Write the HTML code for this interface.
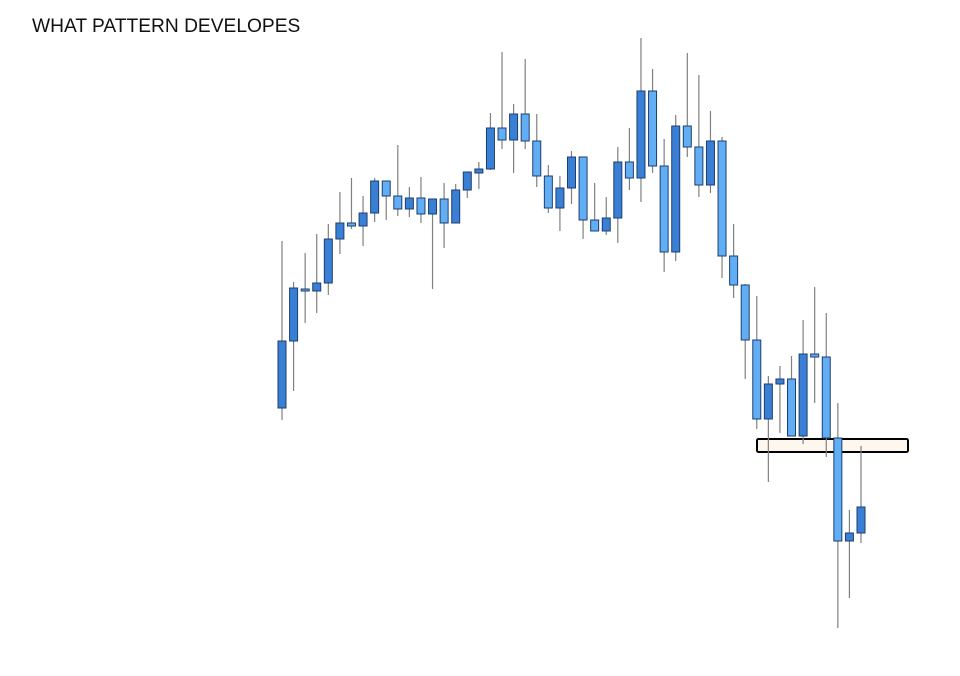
<!DOCTYPE html>
<html><head><meta charset="utf-8"><style>
html,body{margin:0;padding:0;background:#fff;width:960px;height:676px;overflow:hidden}
#title{position:absolute;left:32px;top:16px;font-family:"Liberation Sans",sans-serif;font-size:19.2px;color:#111}
svg{position:absolute;left:0;top:0}
</style></head><body>
<div id="title">WHAT PATTERN DEVELOPES</div>
<svg id="chart" width="960" height="676">
<rect x="757" y="439" width="151" height="13" rx="1.5" fill="#fdf7ee" stroke="#000" stroke-width="2"/>
<g id="candles"></g>
</svg>
<script>
const openVals=[292,359,411,409,417,461,477,474,487,519,504,491,502,486,501,477,510,527,531,572,560,586,559,524,492,512,543,480,469,482,538,522,609,534,448,574,553,515,559,444,415,360,281,316,321,264,346,343,262,159,167];
const closeVals=[359,412,409,417,461,477,474,487,519,504,491,502,486,501,477,510,528,531,572,560,586,559,524,492,512,543,480,469,482,538,522,609,534,448,574,553,515,559,444,415,360,281,316,321,264,346,343,262,159,167,193];
const highVals=[459,418,447,466,476,508,522,504,522,519,555,513,523,501,517,516,528,538,587,648,596,641,586,535,524,549,543,517,503,553,572,662,631,561,585,647,625,589,563,476,416,404,324,334,344,380,413,387,297,190,254];
const lowVals=[280,309,377,387,405,446,471,454,478,480,484,483,477,411,452,477,502,511,530,551,527,551,513,487,469,496,461,469,465,457,510,498,527,428,439,543,503,507,422,402,321,271,218,267,264,256,297,243,72,102,157];
const NS="http://www.w3.org/2000/svg";
const xPos=i=>282+i*(861-282)/(openVals.length-1);
const yPos=p=>700-p;
const g=document.getElementById('candles');
for(let i=0;i<openVals.length;i++){
  const o=openVals[i],c=closeVals[i],x=xPos(i);
  const up=c>=o;
  const w=document.createElementNS(NS,'line');
  
  
  w.setAttribute('x1',x);w.setAttribute('x2',x);
  w.setAttribute('y1',yPos(highVals[i]));w.setAttribute('y2',yPos(lowVals[i]));
  w.setAttribute('stroke','#808080');w.setAttribute('stroke-width','1.2');
  g.appendChild(w);
  const b=document.createElementNS(NS,'rect');
  
  
  const top=yPos(Math.max(o,c)),bot=yPos(Math.min(o,c));
  b.setAttribute('x',x-4);b.setAttribute('width',8);
  b.setAttribute('y',top);b.setAttribute('height',Math.max(bot-top,2));
  b.setAttribute('fill',up?'#3a7fd6':'#62aef5');
  b.setAttribute('stroke','#1d3e6e');b.setAttribute('stroke-width','1');
  g.appendChild(b);
}
</script>
</body></html>
